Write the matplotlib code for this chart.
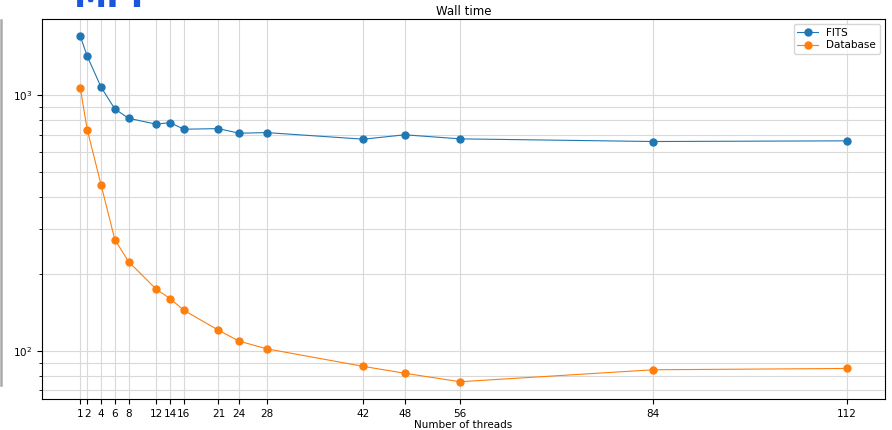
import matplotlib
matplotlib.use("Agg")
import matplotlib.pyplot as plt
from matplotlib.lines import Line2D

# Thread counts benchmarked and the measured wall times (seconds)
threads = [1, 2, 4, 6, 8, 12, 14, 16, 21, 24, 28, 42, 48, 56, 84, 112]
fits_time = [1697, 1419, 1074, 882, 811, 769, 780, 735, 739, 709, 713,
             672, 699, 674, 658, 662]
database_time = [1062, 733, 446, 272, 223, 174, 160, 144, 120.4, 109.1,
                 101.8, 86.9, 81.7, 75.7, 84.3, 85.3]
series_labels = ["FITS", "Database"]

W, H = 892, 430
fig = plt.figure(figsize=(W / 100, H / 100), dpi=100)
ax = fig.add_axes([42 / W, 1 - 399 / H, (885 - 42) / W, (399 - 19) / H])

ax.plot(threads, fits_time, marker="o", markersize=5, linewidth=0.8,
        color="#1f77b4", label=series_labels[0])
ax.plot(threads, database_time, marker="o", markersize=5, linewidth=0.8,
        color="#ff7f0e", label=series_labels[1])

ax.set_yscale("log")
ax.set_xticks(threads)
ax.set_xticklabels([str(t) for t in threads])
ax.grid(True, which="both", color="#d9d9d9", linewidth=0.8)
ax.set_axisbelow(True)
ax.tick_params(labelsize=7.5)
ax.set_xlabel("Number of threads", fontsize=7.5, labelpad=1)
ax.set_title("Wall time", fontsize=8.5, pad=3)
ax.legend(loc="upper right", fontsize=7.5, labelspacing=0.25,
          borderpad=0.35)

# Logo fragment and frame edge at the top-left of the page
fig.text(74 / W, 1 - 7 / H, "MPI", color="#1a56db", fontsize=24,
         fontweight="bold", va="baseline", ha="left")
fig.add_artist(Line2D([1 / W, 1 / W], [1 - 20 / H, 1 - 385 / H],
                      transform=fig.transFigure, color="#aaaaaa", linewidth=1.8))

fig.savefig("out.png", dpi=100)
